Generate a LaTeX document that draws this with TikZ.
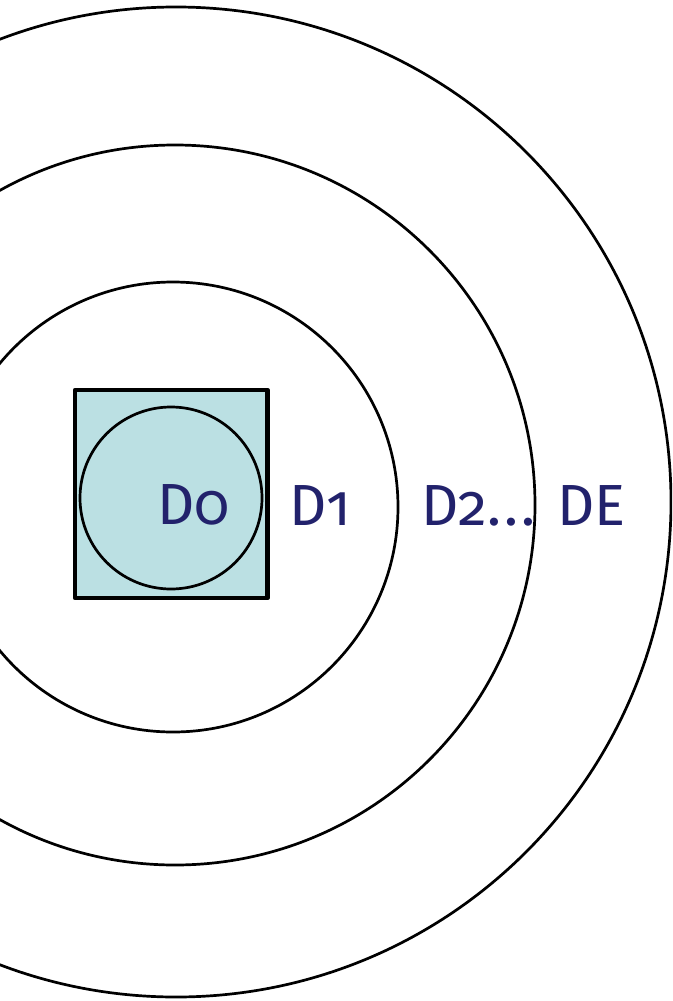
\documentclass[tikz,border=0pt]{standalone}
\usepackage{fontspec}
\setmainfont[Numbers=OldStyle]{Fira Sans}
\definecolor{navy}{RGB}{34,34,108}
\definecolor{paleblue}{RGB}{187,224,227}
\begin{document}
\begin{tikzpicture}[x=1pt,y=-1pt,
  ring/.style={draw=black,line width=2.7pt},
  lbl/.style={text=navy,font=\fontsize{58}{62}\selectfont,inner sep=0pt,anchor=base west}]
\useasboundingbox (0,0) rectangle (672,1001);
\clip (0,0) rectangle (672,1001);
\fill[white] (0,0) rectangle (672,1001);
\draw[ring] (176,502) circle[radius=495];
\draw[ring] (175,505) circle[radius=360];
\draw[ring] (173,507) circle[radius=225];
\draw[fill=paleblue,line width=4.5pt,line join=round] (75,390) rectangle (267.5,598);
\draw[ring] (171,498) circle[radius=91];
\node[lbl] (d0) at (157,524) {D0};
\node[lbl] (d1) at (289,525) {D1};
\node[lbl] (d2) at (421,525) {D2.\kern3pt.\kern3pt.};
\node[lbl] (de) at (557,525) {DE};
\end{tikzpicture}
\end{document}
